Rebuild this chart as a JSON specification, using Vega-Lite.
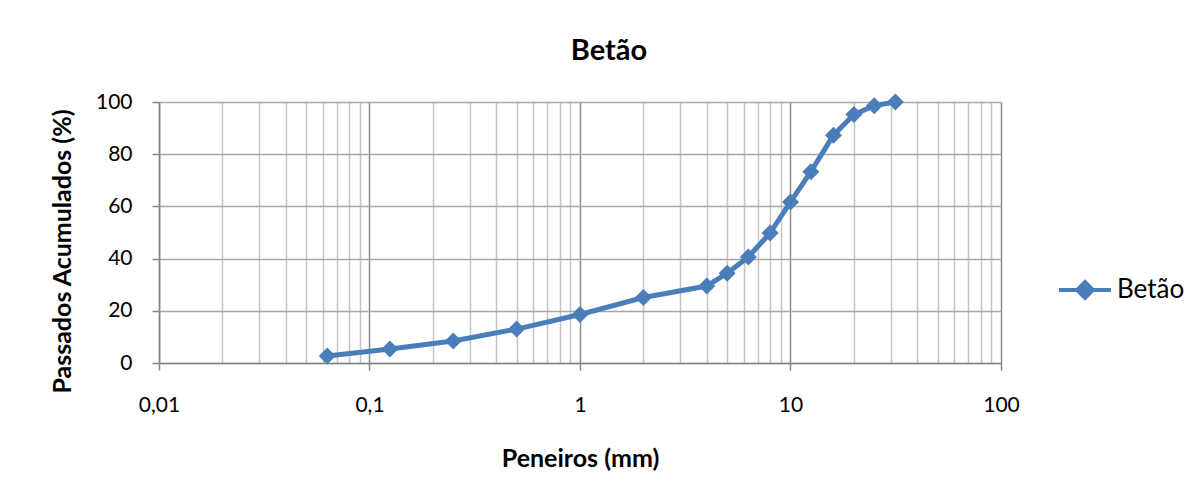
{
  "$schema": "https://vega.github.io/schema/vega-lite/v6.json",
  "width": 842,
  "height": 261,
  "autosize": {"type": "none"},
  "padding": {"left": 159, "top": 102, "right": 202, "bottom": 138},
  "background": "white",
  "config": {
    "font": "Lato",
    "view": {"stroke": null},
    "axis": {"labelFont": "Lato", "titleFont": "Lato", "labelColor": "#000000", "titleColor": "#000000"}
  },
  "title": {
    "text": "Betão",
    "font": "Lato",
    "fontSize": 29,
    "fontWeight": "bold",
    "color": "#000000",
    "offset": 25,
    "dx": 29
  },
  "data": {
    "values": [
      {"peneiro": 0.063, "passados": 2.7, "serie": "Betão"},
      {"peneiro": 0.125, "passados": 5.4, "serie": "Betão"},
      {"peneiro": 0.25, "passados": 8.4, "serie": "Betão"},
      {"peneiro": 0.5, "passados": 13.0, "serie": "Betão"},
      {"peneiro": 1, "passados": 18.6, "serie": "Betão"},
      {"peneiro": 2, "passados": 25.1, "serie": "Betão"},
      {"peneiro": 4, "passados": 29.5, "serie": "Betão"},
      {"peneiro": 5, "passados": 34.4, "serie": "Betão"},
      {"peneiro": 6.3, "passados": 40.6, "serie": "Betão"},
      {"peneiro": 8, "passados": 49.8, "serie": "Betão"},
      {"peneiro": 10, "passados": 61.7, "serie": "Betão"},
      {"peneiro": 12.5, "passados": 73.3, "serie": "Betão"},
      {"peneiro": 16, "passados": 87.3, "serie": "Betão"},
      {"peneiro": 20, "passados": 95.2, "serie": "Betão"},
      {"peneiro": 25, "passados": 98.6, "serie": "Betão"},
      {"peneiro": 31.5, "passados": 100, "serie": "Betão"}
    ]
  },
  "layer": [
    {
      "mark": {"type": "point", "opacity": 0, "size": 1},
      "encoding": {
        "x": {
          "field": "peneiro", "type": "quantitative",
          "scale": {"type": "log", "domain": [0.01, 100], "nice": false},
          "axis": {
            "orient": "top",
            "values": [0.02,0.03,0.04,0.05,0.06,0.07,0.08,0.09,0.2,0.3,0.4,0.5,0.6,0.7,0.8,0.9,2,3,4,5,6,7,8,9,20,30,40,50,60,70,80,90],
            "labels": false, "ticks": false, "domain": false, "title": null,
            "grid": true, "gridColor": "#c4c4c4", "gridWidth": 1.5
          }
        },
        "y": {
          "field": "passados", "type": "quantitative",
          "scale": {"domain": [0, 100], "nice": false},
          "axis": {
            "values": [0, 20, 40, 60, 80, 100],
            "grid": true, "gridColor": "#a6a6a6", "gridWidth": 1.5,
            "domain": true, "domainColor": "#868686", "domainWidth": 1.5,
            "ticks": true, "tickColor": "#868686", "tickSize": 7, "tickWidth": 1.5,
            "labelFontSize": 21, "labelPadding": 20,
            "title": "Passados Acumulados (%)",
            "titleFontSize": 25, "titleFontWeight": "bold", "titlePadding": 20,
            "titleY": 149
          }
        }
      }
    },
    {
      "mark": {
        "type": "line",
        "strokeWidth": 5,
        "point": {"shape": "diamond", "size": 290, "filled": true}
      },
      "encoding": {
        "x": {
          "field": "peneiro", "type": "quantitative",
          "scale": {"type": "log", "domain": [0.01, 100], "nice": false},
          "axis": {
            "orient": "bottom",
            "values": [0.01, 0.1, 1, 10, 100],
            "labelExpr": "datum.value == 0.01 ? '0,01' : datum.value == 0.1 ? '0,1' : datum.label",
            "labelFlush": false,
            "grid": true, "gridColor": "#8c8c8c", "gridWidth": 1.5,
            "domain": true, "domainColor": "#868686", "domainWidth": 1.5,
            "ticks": true, "tickColor": "#868686", "tickSize": 7, "tickWidth": 1.5,
            "labelFontSize": 21, "labelPadding": 24,
            "title": "Peneiros (mm)",
            "titleFontSize": 25, "titleFontWeight": "bold", "titlePadding": 31
          }
        },
        "y": {
          "field": "passados", "type": "quantitative",
          "scale": {"domain": [0, 100], "nice": false}
        },
        "color": {
          "field": "serie", "type": "nominal",
          "scale": {"range": ["#4a7ebb"]},
          "legend": {
            "title": null,
            "orient": "none",
            "legendX": 898,
            "legendY": 160,
            "symbolType": "M-1,0H1M-0.3,0L0,-0.3L0.3,0L0,0.3Z",
            "symbolSize": 2704,
            "symbolStrokeWidth": 4,
            "symbolFillColor": "#4a7ebb",
            "symbolStrokeColor": "#4a7ebb",
            "symbolOpacity": 1,
            "labelFontSize": 26,
            "labelFont": "Lato",
            "labelColor": "#000000",
            "labelOffset": 4
          }
        }
      }
    }
  ],
  "resolve": {"axis": {"x": "independent"}}
}
